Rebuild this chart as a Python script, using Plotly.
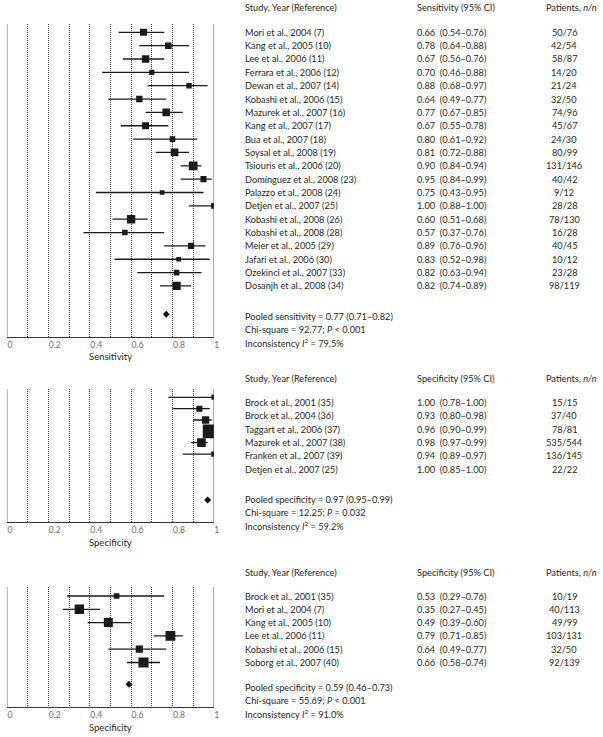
import plotly.graph_objects as go

# ---------------- data ----------------
studies_sens = ["Mori et al., 2004 (7)", "Kang et al., 2005 (10)", "Lee et al., 2006 (11)",
                "Ferrara et al., 2006 (12)", "Dewan et al., 2007 (14)", "Kobashi et al., 2006 (15)",
                "Mazurek et al., 2007 (16)", "Kang et al., 2007 (17)", "Bua et al., 2007 (18)",
                "Soysal et al., 2008 (19)", "Tsiouris et al., 2006 (20)", "Domínguez et al., 2008 (23)",
                "Palazzo et al., 2008 (24)", "Detjen et al., 2007 (25)", "Kobashi et al., 2008 (26)",
                "Kobashi et al., 2008 (28)", "Meier et al., 2005 (29)", "Jafari et al., 2006 (30)",
                "Ozekinci et al., 2007 (33)", "Dosanjh et al., 2008 (34)"]
sens = [0.66, 0.78, 0.67, 0.70, 0.88, 0.64, 0.77, 0.67, 0.80, 0.81,
        0.90, 0.95, 0.75, 1.00, 0.60, 0.57, 0.89, 0.83, 0.82, 0.82]
sens_lo = [0.54, 0.64, 0.56, 0.46, 0.68, 0.49, 0.67, 0.55, 0.61, 0.72,
           0.84, 0.84, 0.43, 0.88, 0.51, 0.37, 0.76, 0.52, 0.63, 0.74]
sens_hi = [0.76, 0.88, 0.76, 0.88, 0.97, 0.77, 0.85, 0.78, 0.92, 0.88,
           0.94, 0.99, 0.95, 1.00, 0.68, 0.76, 0.96, 0.98, 0.94, 0.89]
sens_num = [50, 42, 58, 14, 21, 32, 74, 45, 24, 80, 131, 40, 9, 28, 78, 16, 40, 10, 23, 98]
sens_den = [76, 54, 87, 20, 24, 50, 96, 67, 30, 99, 146, 42, 12, 28, 130, 28, 45, 12, 28, 119]
sens_pooled = [0.77, 0.71, 0.82]
sens_chi = "92.77"
sens_p = "&lt; 0.001"
sens_i2 = "79.5%"

studies_spec1 = ["Brock et al., 2001 (35)", "Brock et al., 2004 (36)", "Taggart et al., 2006 (37)",
                 "Mazurek et al., 2007 (38)", "Franken et al., 2007 (39)", "Detjen et al., 2007 (25)"]
spec1 = [1.00, 0.93, 0.96, 0.98, 0.94, 1.00]
spec1_lo = [0.78, 0.80, 0.90, 0.97, 0.89, 0.85]
spec1_hi = [1.00, 0.98, 0.99, 0.99, 0.97, 1.00]
spec1_num = [15, 37, 78, 535, 136, 22]
spec1_den = [15, 40, 81, 544, 145, 22]
spec1_pooled = [0.97, 0.95, 0.99]
spec1_chi = "12.25"
spec1_p = "= 0.032"
spec1_i2 = "59.2%"

studies_spec2 = ["Brock et al., 2001 (35)", "Mori et al., 2004 (7)", "Kang et al., 2005 (10)",
                 "Lee et al., 2006 (11)", "Kobashi et al., 2006 (15)", "Soborg et al., 2007 (40)"]
spec2 = [0.53, 0.35, 0.49, 0.79, 0.64, 0.66]
spec2_lo = [0.29, 0.27, 0.39, 0.71, 0.49, 0.58]
spec2_hi = [0.76, 0.45, 0.60, 0.85, 0.77, 0.74]
spec2_num = [10, 40, 49, 103, 32, 92]
spec2_den = [19, 113, 99, 131, 50, 139]
spec2_pooled = [0.59, 0.46, 0.73]
spec2_chi = "55.69"
spec2_p = "&lt; 0.001"
spec2_i2 = "91.0%"

x_ticks = [0, 0.2, 0.4, 0.6, 0.8, 1]
x_tick_labels = ["0", "0.2", "0.4", "0.6", "0.8", "1"]

# ---------------- layout (pixel geometry) ----------------
W, H = 603, 737
FONT = "Lato"
FS = 9.2
TXT = "#231f20"


def fy(p):
    return 1 - p / H


def fx(p):
    return p / W


panels = [
    dict(studies=studies_sens, est=sens, lo=sens_lo, hi=sens_hi, num=sens_num, den=sens_den,
         pooled=sens_pooled, chi=sens_chi, p=sens_p, i2=sens_i2,
         measure="Sensitivity", pooled_name="Pooled sensitivity",
         top=24, bottom=336.7, row0=32.3, step=13.35, trow0=32.3, tstep=13.35,
         header=8, diamond=314.3, pooled_txt=316, title=356, size_a=3.1, size_b=0.464),
    dict(studies=studies_spec1, est=spec1, lo=spec1_lo, hi=spec1_hi, num=spec1_num, den=spec1_den,
         pooled=spec1_pooled, chi=spec1_chi, p=spec1_p, i2=spec1_i2,
         measure="Specificity", pooled_name="Pooled specificity",
         top=389, bottom=521.7, row0=397.3, step=11.35, trow0=402.3, tstep=13.4,
         header=378, diamond=500, pooled_txt=499.5, title=542.3, size_a=3.1, size_b=0.464),
    dict(studies=studies_spec2, est=spec2, lo=spec2_lo, hi=spec2_hi, num=spec2_num, den=spec2_den,
         pooled=spec2_pooled, chi=spec2_chi, p=spec2_p, i2=spec2_i2,
         measure="Specificity", pooled_name="Pooled specificity",
         top=586.7, bottom=706.7, row0=596, step=13.3, trow0=596, tstep=13.3,
         header=572.7, diamond=684.3, pooled_txt=687.3, title=727.3, size_a=3.0, size_b=0.6),
]

PLOT_L, PLOT_R = 7, 216
COL_STUDY, COL_EST, COL_PAT_H, COL_PAT = 246.5, 420, 550, 570

fig = go.Figure()
annotations = []
shapes = []
layout_axes = {}


def ann(text, xpx, ypx, anchor="left", size=FS, color=TXT):
    annotations.append(dict(text=text, x=fx(xpx), y=fy(ypx), xref="paper", yref="paper",
                            xanchor=anchor, yanchor="middle", showarrow=False, borderpad=0,
                            font=dict(family=FONT, size=size, color=color)))


for k, pn in enumerate(panels, start=1):
    xa = "x" if k == 1 else f"x{k}"
    ya = "y" if k == 1 else f"y{k}"
    n = len(pn["studies"])
    rows = list(range(n))
    sizes = [pn["size_a"] + pn["size_b"] * (d ** 0.5) for d in pn["den"]]

    fig.add_trace(go.Scatter(
        x=pn["est"], y=rows, xaxis=xa, yaxis=ya, mode="markers",
        marker=dict(symbol="square", size=sizes, color="#1a1a1a", opacity=1, line=dict(width=0)),
        error_x=dict(type="data", symmetric=False,
                     array=[h - e for h, e in zip(pn["hi"], pn["est"])],
                     arrayminus=[e - l for e, l in zip(pn["est"], pn["lo"])],
                     color="#1a1a1a", thickness=1.3, width=0),
        showlegend=False, hoverinfo="skip"))

    d_row = (pn["diamond"] - pn["row0"]) / pn["step"]
    fig.add_trace(go.Scatter(
        x=[pn["pooled"][0]], y=[d_row], xaxis=xa, yaxis=ya, mode="markers",
        marker=dict(symbol="diamond", size=5.4, color="#111", opacity=1),
        showlegend=False, hoverinfo="skip"))

    r_top = (pn["top"] - pn["row0"]) / pn["step"]
    r_bot = (pn["bottom"] - pn["row0"]) / pn["step"]
    layout_axes["xaxis" if k == 1 else f"xaxis{k}"] = dict(
        domain=[fx(PLOT_L), fx(PLOT_R)], anchor=ya, range=[0, 1],
        tickmode="array", tickvals=x_ticks, ticktext=x_tick_labels,
        ticks="", ticklabelposition="outside right",
        tickfont=dict(family=FONT, size=8.6, color="#6d6d6d"),
        showgrid=True, gridcolor="#3a3a3a", gridwidth=1, griddash="1px,1px",
        minor=dict(dtick=0.1, tick0=0, showgrid=True, gridcolor="#3a3a3a",
                   gridwidth=1, griddash="1px,1px", ticks=""),
        zeroline=False, showline=True, linecolor="#333", linewidth=1, fixedrange=True)
    layout_axes["yaxis" if k == 1 else f"yaxis{k}"] = dict(
        domain=[fy(pn["bottom"]), fy(pn["top"])], anchor=xa, range=[r_bot, r_top],
        visible=False, fixedrange=True)

    # boundary lines at 0 and 1
    shapes.append(dict(type="line", xref=xa, yref=f"{ya} domain", x0=0, x1=0, y0=0, y1=1,
                       line=dict(color="#b8b8b8", width=2), layer="below"))
    shapes.append(dict(type="line", xref=xa, yref=f"{ya} domain", x0=1, x1=1, y0=0, y1=1,
                       line=dict(color="#7a7a7a", width=1.2), layer="below"))

    # axis title
    ann(pn["measure"], (PLOT_L + PLOT_R) / 2, pn["title"], anchor="center", size=9.5)

    # table headers
    ann("Study, Year (Reference)", COL_STUDY, pn["header"])
    ann(f"{pn['measure']} (95% CI)", COL_EST, pn["header"])
    ann("Patients, <i>n/n</i>", COL_PAT_H, pn["header"])

    # table rows
    for i in rows:
        yy = pn["trow0"] + pn["tstep"] * i
        ann(pn["studies"][i], COL_STUDY, yy)
        ann(f"{pn['est'][i]:.2f}\u00a0\u00a0({pn['lo'][i]:.2f}–{pn['hi'][i]:.2f})", COL_EST, yy)
        ann(f"{pn['num'][i]}/{pn['den'][i]}", COL_PAT, yy, anchor="center")

    # pooled summary
    pv, pl, ph = pn["pooled"]
    lines = [f"{pn['pooled_name']} = {pv:.2f} ({pl:.2f}–{ph:.2f})",
             f"Chi-square = {pn['chi']}; <i>P</i> {pn['p']}",
             f"Inconsistency <i>I</i><sup>2</sup> = {pn['i2']}"]
    for j, t in enumerate(lines):
        ann(t, COL_STUDY, pn["pooled_txt"] + 13.3 * j)

fig.update_layout(
    width=W, height=H, margin=dict(l=0, r=0, t=0, b=0),
    paper_bgcolor="white", plot_bgcolor="white",
    annotations=annotations, shapes=shapes, showlegend=False,
    font=dict(family=FONT, size=FS, color=TXT),
    **layout_axes)

fig.write_html("out.html", config={"displayModeBar": False},
               post_script="document.body.style.margin='0';document.body.style.overflow='hidden';")
